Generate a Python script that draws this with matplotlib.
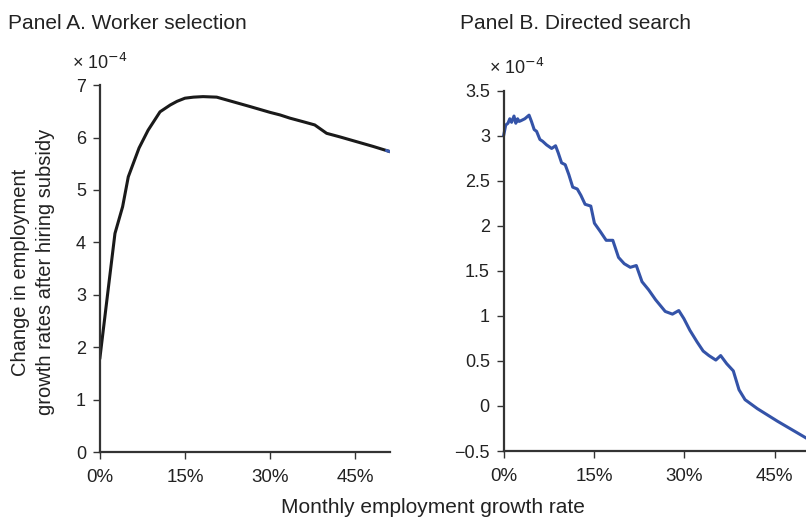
import matplotlib.pyplot as plt
from matplotlib.ticker import FuncFormatter

plt.rcParams['font.family'] = ['Liberation Sans', 'DejaVu Sans']

# Panel A: worker selection (x in %, y in units of 1e-4)
sel_x = [0.0, 1.65, 2.65, 4.0, 5.0, 6.9, 8.5, 10.6, 12.4, 13.6, 15.0, 16.5,
         18.2, 20.6, 22.9, 26.5, 30.0, 31.8, 33.5, 35.9, 37.9, 40.0, 42.4,
         45.3, 48.2, 51.2]
sel_y = [1.8, 3.28, 4.17, 4.68, 5.25, 5.80, 6.14, 6.49, 6.62, 6.69, 6.75,
         6.77, 6.78, 6.77, 6.70, 6.59, 6.48, 6.43, 6.37, 6.30, 6.24, 6.08,
         6.01, 5.92, 5.83, 5.73]

# Panel B: directed search
dir_x = [0.0, 0.33, 0.7, 1.0, 1.3, 1.7, 2.0, 2.3, 2.55, 2.9, 3.5, 4.2, 4.6,
         5.05, 5.45, 6.0, 6.45, 7.1, 7.95, 8.6, 9.05, 9.6, 10.2, 10.8, 11.45,
         12.2, 12.8, 13.5, 14.45, 15.05, 16.0, 17.0, 18.1, 19.05, 20.0, 21.0,
         22.0, 22.95, 24.05, 25.2, 26.8, 28.0, 29.05, 29.9, 30.9, 32.1, 33.1,
         34.05, 35.2, 36.0, 37.0, 38.1, 39.05, 40.05, 42.1, 45.45, 50.3]
dir_y = [3.01, 3.12, 3.14, 3.19, 3.15, 3.22, 3.14, 3.19, 3.16, 3.17, 3.19,
         3.23, 3.16, 3.07, 3.05, 2.96, 2.94, 2.90, 2.86, 2.89, 2.81, 2.70, 2.68,
         2.57, 2.43, 2.41, 2.34, 2.24, 2.22, 2.03, 1.94, 1.84, 1.84, 1.65, 1.58,
         1.54, 1.56, 1.38, 1.29, 1.18, 1.05, 1.02, 1.06, 0.97, 0.84, 0.71, 0.61,
         0.56, 0.51, 0.56, 0.47, 0.39, 0.18, 0.07, -0.03, -0.17, -0.36]

x_ticks = [0, 15, 30, 45]
ylab = 'Change in employment\ngrowth rates after hiring subsidy'
txt = '#222222'

fig = plt.figure(figsize=(8.06, 5.22), dpi=100)
ax1 = fig.add_axes([0.124, 0.134, 0.360, 0.703])
ax2 = fig.add_axes([0.625, 0.136, 0.376, 0.690])

ax1.plot(sel_x, sel_y, color='#1a1a1a', lw=2.2, solid_joinstyle='round')
ax1.plot([50.6, 51.2], [5.75, 5.73], color='#3b5bb0', lw=2.2)
ax1.set_xlim(0, 51.2)
ax1.set_ylim(0, 7)
ax1.set_yticks(range(0, 8))

ax2.plot(dir_x, dir_y, color='#3453a8', lw=2.2, clip_on=False)
ax2.set_xlim(0, 50.3)
ax2.set_ylim(-0.5, 3.5)
ax2.set_yticks([-0.5, 0, 0.5, 1, 1.5, 2, 2.5, 3, 3.5])
ax2.yaxis.set_major_formatter(FuncFormatter(
    lambda v, p: ('\u22120.5' if v < 0 else ('%g' % v))))

for ax in (ax1, ax2):
    for s in ('top', 'right'):
        ax.spines[s].set_visible(False)
    for s in ('left', 'bottom'):
        ax.spines[s].set_color('#333333')
        ax.spines[s].set_linewidth(1.6)
    ax.set_xticks(x_ticks)
    ax.set_xticklabels(['%d%%' % t for t in x_ticks])
    ax.tick_params(direction='out', length=5, width=1.0, color='#333333',
                   labelsize=13, labelcolor=txt, pad=5)
    ax.tick_params(axis='x', labelsize=13.5, pad=7)

fig.text(0.041, 0.479, ylab, fontsize=14.5, color=txt, rotation=90,
         ha='center', va='center', multialignment='center', linespacing=1.35)

fig.text(0.010, 0.955, 'Panel A. Worker selection', fontsize=15, color=txt, va='center')
fig.text(0.571, 0.955, 'Panel B. Directed search', fontsize=15, color=txt, va='center')
fig.text(0.089, 0.879, '\u00d7 10$^{\u22124}$', fontsize=13, color=txt, va='center')
fig.text(0.607, 0.869, '\u00d7 10$^{\u22124}$', fontsize=13, color=txt, va='center')
fig.text(0.537, 0.027, 'Monthly employment growth rate', fontsize=15,
         color=txt, ha='center', va='center')

fig.savefig('out.png', dpi=100)
